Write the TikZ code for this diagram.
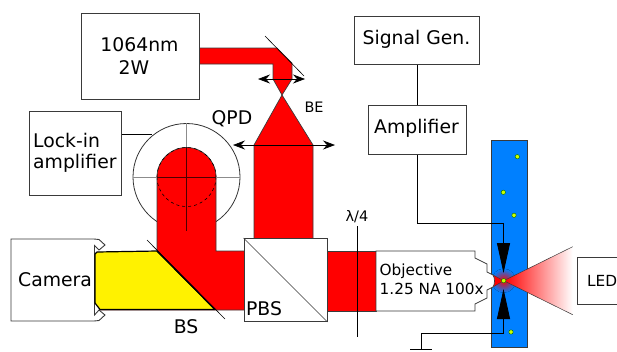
\documentclass[tikz,border=0pt]{standalone}
\usepackage{fontspec}
\setmainfont{DejaVu Sans}
\usepackage{xcolor}
\definecolor{mred}{HTML}{FF0000}
\definecolor{mblue}{HTML}{0080FF}
\definecolor{mbead}{HTML}{CCFF00}
\definecolor{medge}{HTML}{3A3A3A}
\usetikzlibrary{arrows.meta}
\tikzset{
    box/.style={draw=medge, fill=white, line width=0.9pt, anchor=north west, inner sep=0pt},
    beam/.style={fill=mred, draw=medge, line width=0.7pt},
    lbl/.style={inner sep=0pt, font=\fontsize{18.8}{20}\selectfont},
    lblsmall/.style={inner sep=0pt, font=\fontsize{15.3}{17}\selectfont},
    lens/.style={draw=black, line width=0.7pt, {Stealth[length=12pt,width=9pt,inset=4pt]}-{Stealth[length=12pt,width=9pt,inset=4pt]}},
    wire/.style={draw=black, line width=0.9pt},
    bead/.style={circle, draw=black!60!green, fill=mbead, line width=0.4pt, minimum size=4.4pt, inner sep=0pt},
    trap/.style={-{Triangle[length=30pt,width=13pt]}}
}
\begin{document}
\begin{tikzpicture}[x=1pt, y=-1pt]
    \useasboundingbox (0, 0) rectangle (617, 351);

    % sample slide and focus
    \fill[mblue] (491, 140) rectangle (527.5, 347.5);
    \draw[medge, line width=0.7pt] (491, 140) rectangle (527.5, 347.5);
    \fill[inner color=red, outer color=mblue] (503.7, 280.7) circle (12);
    \path[left color=mred, middle color=mred, right color=white] (503.7, 280.7) -- (572.7, 246.7) -- (572.7, 314.7) -- cycle;
    \draw[medge, line width=0.5pt] (572.7, 246.7) -- (503.7, 280.7) -- (572.7, 314.7);
    \draw[beam, line width=0.4pt] (493, 275) -- (503.7, 280.7) -- (493, 287) -- cycle;

    % laser path, top
    \draw[beam] (199, 48) -- (277, 48) -- (292, 63) -- (292, 79) -- (282, 95) -- (273, 79) -- (273, 64) -- (199, 64) -- cycle;
    \draw[beam] (254, 145) -- (282, 95) -- (313, 145) -- (313, 240) -- (254, 240) -- cycle;
    \draw[line width=0.6pt] (265, 36) -- (304, 76);
    \coordinate (smallL) at (258, 79);
    \coordinate (smallR) at (305, 79);
    \coordinate (bigL) at (233, 145);
    \coordinate (bigR) at (335, 145);
    \draw[lens] (smallL) -- (smallR);
    \draw[lens] (bigL) -- (bigR);

    % qpd circle
    \node (qpd) [circle, draw=black!80, line width=0.8pt, minimum size=107pt, inner sep=0pt] at (186.5, 177) {};
    \draw[beam] (157, 177) arc[start angle=180, end angle=0, radius=29.5pt] -- (216, 251) -- (245, 251) -- (245, 310) -- (100, 310) -- (157, 251) -- cycle;
    \draw[black, line width=0.6pt, dashed] (qpd.center) ++(-29.5, 0) arc[start angle=180, end angle=360, radius=29.5pt];
    \draw[black, line width=0.6pt, dashed] (qpd.center) ++(-29.5, 0) arc[start angle=180, end angle=0, radius=29.5pt];
    \draw[black!45, line width=0.8pt] (qpd.west) -- (157, 177) (216, 177) -- (qpd.east) (qpd.north) -- (186.5, 147);
    \draw[black!70!red, line width=0.7pt] (157, 177) -- (216, 177);
    \draw[black!70!red, line width=0.7pt] (186.5, 147) -- (qpd.south);

    % camera and reflected beam
    \draw[box] (11, 239) -- (94, 239) -- (99, 239.5) -- (105, 245) -- (99, 250) -- (94.5, 245.5) -- (94.5, 315) -- (99, 310) -- (105, 315) -- (99, 320.5) -- (94, 321) -- (11, 321) -- cycle;
    \draw[fill=yellow, draw=black, line width=1.2pt, line join=round] (97, 252) -- (157, 251) -- (215, 309.5) -- (100, 309.5) -- (95, 303) -- (95, 254) -- cycle;
    \draw[line width=0.6pt] (147, 240) -- (225, 319);
    \draw[black, line width=1.2pt] (157, 251) -- (215, 309.5);

    % pbs and quarter wave plate
    \draw[beam] (327, 251) rectangle (376, 311);
    \node (pbs) [box, minimum width=83pt, minimum height=83pt] at (243.5, 238) {};
    \draw[medge, line width=0.6pt] (pbs.north west) -- (pbs.south east);
    \draw[black, line width=0.8pt] (357, 226) -- (357, 337);

    % objective
    \draw[draw=medge, fill=white, line width=0.7pt] (376, 251) -- (475, 251) -- (475, 258) -- (487, 264) -- (487, 272) -- (493, 275) .. controls (495, 278) and (495, 284) .. (493, 287) -- (487, 290) -- (487, 298) -- (475, 304) -- (475, 311) -- (376, 311) -- cycle;

    % boxes
    \node (laser) [box, minimum width=118pt, minimum height=86pt] at (81, 13) {};
    \node (lockin) [box, minimum width=92pt, minimum height=84pt] at (29, 111) {};
    \node (siggen) [box, minimum width=125pt, minimum height=48pt] at (354, 16) {};
    \node (amp) [box, minimum width=98pt, minimum height=49.5pt] at (367.7, 104.7) {};
    \node (led) [box, minimum width=60pt, minimum height=47pt] at (577, 257) {};

    % wiring
    \coordinate (qpdtab) at (152, 134);
    \draw[wire] (lockin.east |- qpdtab) -- (qpdtab);
    \draw[wire] (amp.north -| siggen.south) -- (siggen.south);
    \coordinate (toptrap) at (503.5, 273);
    \coordinate (lowtrap) at (503.5, 289);
    \coordinate (topbend) at (503.5, 223);
    \coordinate (lowbend) at (503.5, 333);
    \coordinate (gnd) at (421, 349);
    \draw[wire, trap] (amp.south) |- (topbend) -- (toptrap);
    \draw[wire, trap] (gnd) |- (lowbend) -- (lowtrap);
    \coordinate (gndL) at (410, 349);
    \coordinate (gndR) at (432, 349);
    \draw[wire] (gndL) -- (gndR);

    % beads
    \node (bead1) [bead] at (517.3, 156.7) {};
    \node (bead2) [bead] at (503.3, 192.3) {};
    \node (bead3) [bead] at (514, 215.3) {};
    \node (bead4) [bead] at (511, 332) {};
    \node (bead5) [bead] at (503.7, 280.7) {};

    % labels
    \node (laserA) [lbl] at (139.5, 45) {1064nm};
    \node (laserB) [lbl] at (134, 68) {2W};
    \node (lockA) [lbl, anchor=west] at (33, 140) {Lock-in};
    \node (lockB) [lbl, anchor=west] at (33, 163) {amplifier};
    \node (qpdtext) [lbl] at (232, 119) {QPD};
    \node (betext) [lblsmall, font=\fontsize{14.4}{16}\selectfont] at (314, 107) {BE};
    \node (camtext) [lbl, anchor=west] at (18, 280) {Camera};
    \node (bstext) [lbl] at (186, 327) {BS};
    \node (pbstext) [lbl] at (264, 309) {PBS};
    \node (wavetext) [lblsmall, font=\fontsize{14.5}{16}\selectfont] at (357, 217) {λ/4};
    \node (objA) [lblsmall, anchor=west] at (379.5, 271) {Objective};
    \node (objB) [lblsmall, anchor=west] at (379.5, 289) {1.25 NA 100x};
    \node (sigtext) [lbl] at (416.5, 39) {Signal Gen.};
    \node (amptext) [lbl] at (416.5, 128) {Amplifier};
    \node (ledtext) [lblsmall, anchor=west] at (587, 281) {LED};
\end{tikzpicture}
\end{document}
